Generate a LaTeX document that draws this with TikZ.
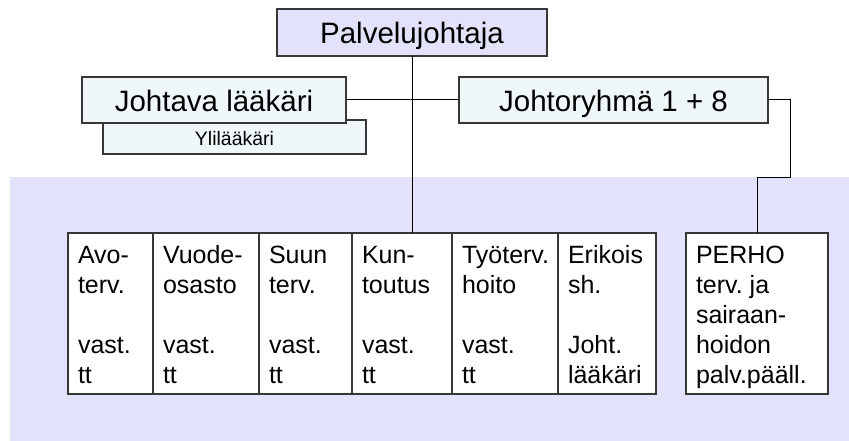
\documentclass[tikz,border=0pt]{standalone}
\usepackage{fontspec}
\setmainfont{Liberation Sans}
\frenchspacing
\definecolor{bgblue}{RGB}{226,226,250}
\definecolor{dotfill}{RGB}{240,247,249}
\definecolor{boxline}{RGB}{55,55,55}
\tikzset{
  every node/.style={inner sep=0pt, outer sep=0pt},
  topbox/.style={draw=boxline, line width=1.1pt, anchor=north west},
  unitbox/.style={draw=boxline, line width=1.1pt, fill=white, anchor=north west, minimum height=161pt},
  bigtext/.style={font=\fontsize{29.5}{34}\selectfont, anchor=base},
  smalltext/.style={font=\fontsize{19.5}{23}\selectfont, anchor=base},
  unittext/.style={font=\fontsize{25}{30}\selectfont, anchor=north west, align=left},
  conn/.style={draw=black, line width=1pt}
}
\begin{document}
\begin{tikzpicture}[x=1pt,y=-1pt]
\useasboundingbox (0,0) rectangle (849,441);
% background area
\fill[bgblue] (10,177) rectangle (849,441);
% top boxes
\node[topbox, fill=bgblue, minimum width=270pt, minimum height=47pt] (palv) at (277,9) {};
\node[bigtext] (palvt) at (412,44) {Palvelujohtaja};
\node[topbox, fill=dotfill, minimum width=263pt, minimum height=34pt] (yli) at (103,120) {};
\node[smalltext] (ylit) at (234.5,146) {Ylilääkäri};
\node[topbox, fill=dotfill, minimum width=264pt, minimum height=46pt] (joht) at (82,77) {};
\node[bigtext] (jolt) at (214,112) {Johtava lääkäri};
\node[topbox, fill=dotfill, minimum width=309pt, minimum height=46pt] (jryh) at (459,77) {};
\node[bigtext] (jryht) at (613.5,112) {Johtoryhmä 1 + 8};
% unit boxes
\node[unitbox, minimum width=85pt] (avo) at (68,233) {};
\node[unitbox, minimum width=106pt] (vuode) at (153,233) {};
\node[unitbox, minimum width=93pt] (suun) at (259,233) {};
\node[unitbox, minimum width=100pt] (kun) at (352,233) {};
\node[unitbox, minimum width=106pt] (tyo) at (452,233) {};
\node[unitbox, minimum width=98pt] (erik) at (558,233) {};
\node[unitbox, minimum width=142pt] (perho) at (686,233) {};
\node[unittext] (avot) at (78,242) {\strut Avo-\\terv.\\ \\vast.\\tt};
\node[unittext] (vuodet) at (163,242) {\strut Vuode-\\osasto\\ \\vast.\\tt};
\node[unittext] (suunt) at (269,242) {\strut Suun\\terv.\\ \\vast.\\tt};
\node[unittext] (kunt) at (362,242) {\strut Kun-\\toutus\\ \\vast.\\tt};
\node[unittext] (tyot) at (462,242) {\strut Työterv.\\hoito\\ \\vast.\\tt};
\node[unittext] (erikt) at (568,242) {\strut Erikois\\sh.\\ \\Joht.\\lääkäri};
\node[unittext] (perhot) at (696,242) {\strut PERHO\\terv. ja\\sairaan-\\hoidon\\palv.pääll.};
% connectors
\coordinate (bend) at (790,178);
\draw[conn] (palv.south) -- (palv.south |- kun.north);
\draw[conn] (joht.east) -- (jryh.west);
\draw[conn] (jryh.east) -| (bend) -| (perho.north);
\end{tikzpicture}
\end{document}
